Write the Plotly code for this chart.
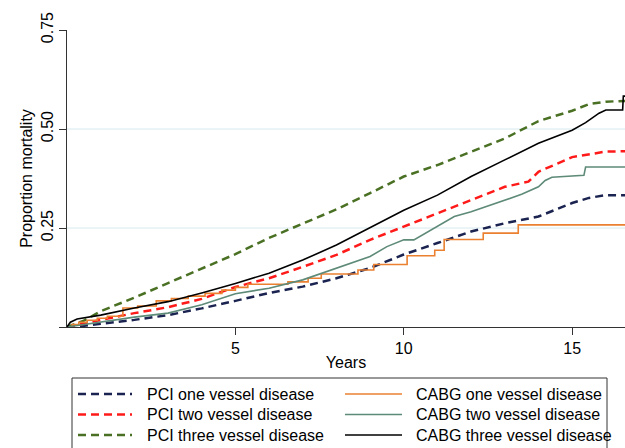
import plotly.graph_objects as go

# ---- data ----
pci1_t = [0, 0.5, 1, 2, 3, 4, 5, 6, 7, 8, 9, 10, 11, 12, 13, 14, 15, 15.5, 16, 16.6]
pci1_y = [0, 0.003, 0.008, 0.018, 0.03, 0.047, 0.066, 0.086, 0.102, 0.123, 0.149, 0.183,
          0.212, 0.241, 0.262, 0.279, 0.313, 0.326, 0.333, 0.333]

pci2_t = [0, 0.5, 1, 2, 3, 4, 5, 6, 7, 8, 9, 10, 11, 12, 13, 13.7, 14, 15, 15.5, 16, 16.6]
pci2_y = [0, 0.008, 0.018, 0.035, 0.05, 0.071, 0.101, 0.123, 0.152, 0.182, 0.22, 0.253,
          0.288, 0.32, 0.354, 0.367, 0.392, 0.429, 0.436, 0.443, 0.444]

pci3_t = [0, 0.25, 0.5, 1, 2, 3, 4, 5, 6, 7, 8, 9, 10, 11, 12, 13, 14, 15, 15.5, 16, 16.6]
pci3_y = [0, 0.008, 0.016, 0.04, 0.074, 0.111, 0.148, 0.184, 0.225, 0.26, 0.297, 0.338,
          0.38, 0.409, 0.443, 0.476, 0.52, 0.546, 0.563, 0.569, 0.571]

cabg1_t = [0, 0.15, 0.35, 0.6, 0.9, 1.2, 1.66, 2.1, 2.65, 3.1, 3.6, 4.1, 4.6, 5.0, 5.37,
           6.56, 7.16, 7.55, 8.64, 9.11, 10.1, 10.92, 11.2, 12.36, 13.4, 16.6]
cabg1_y = [0, 0.006, 0.012, 0.017, 0.022, 0.027, 0.048, 0.053, 0.066, 0.072, 0.078, 0.085,
           0.093, 0.1, 0.108, 0.114, 0.123, 0.134, 0.144, 0.158, 0.18, 0.194, 0.221, 0.237,
           0.258, 0.258]

cabg2_t = [0, 0.5, 1, 2, 3, 4, 5, 6, 7, 8, 9, 9.5, 10, 10.3, 10.5, 11, 11.5, 12, 13, 13.5,
           14, 14.2, 14.4, 15.35, 15.4, 16.6]
cabg2_y = [0, 0.006, 0.013, 0.025, 0.035, 0.056, 0.084, 0.098, 0.119, 0.149, 0.178, 0.203,
           0.22, 0.22, 0.23, 0.253, 0.279, 0.291, 0.32, 0.335, 0.354, 0.37, 0.378, 0.383,
           0.404, 0.404]

cabg3_t = [0, 0.1, 0.3, 1, 2, 3, 4, 5, 6, 7, 8, 9, 10, 11, 12, 13, 14, 15, 15.4, 15.8, 16,
           16.5, 16.52, 16.6]
cabg3_y = [0, 0.012, 0.02, 0.03, 0.048, 0.064, 0.086, 0.11, 0.136, 0.169, 0.207, 0.25,
           0.295, 0.333, 0.38, 0.422, 0.464, 0.497, 0.516, 0.54, 0.548, 0.548, 0.583, 0.583]

x_ticks = [5, 10, 15]
y_ticks = [0, 0.25, 0.5, 0.75]
y_ticktext = ["", "0.25", "0.50", "0.75"]
grid_vals = [0.25, 0.5]

DASH = "8px,5px"
series = [
    ("PCI one vessel disease", pci1_t, pci1_y, "#1b2350", 2.5, DASH, "linear"),
    ("PCI two vessel disease", pci2_t, pci2_y, "#ff1a1a", 2.5, DASH, "linear"),
    ("PCI three vessel disease", pci3_t, pci3_y, "#4a7023", 2.5, DASH, "linear"),
    ("CABG one vessel disease", cabg1_t, cabg1_y, "#ea8030", 1.6, "solid", "hv"),
    ("CABG two vessel disease", cabg2_t, cabg2_y, "#5e8a78", 1.6, "solid", "linear"),
    ("CABG three vessel disease", cabg3_t, cabg3_y, "#000000", 1.6, "solid", "linear"),
]

# ---- layout geometry (pixels) ----
W, H = 625, 448
ML, MR, MT, MB = 67, 0, 30, 121
PW, PH = W - ML - MR, H - MT - MB


def px_x(p):
    return (p - ML) / PW


def px_y(p):
    return (H - MB - p) / PH


fig = go.Figure()
for name, t, y, color, w, dash, shape in series:
    fig.add_trace(go.Scatter(x=t, y=y, mode="lines", name=name, showlegend=False,
                             line=dict(color=color, width=w, dash=dash, shape=shape)))

for g in grid_vals:
    fig.add_shape(type="line", xref="paper", yref="y", x0=0, x1=1, y0=g, y1=g,
                  line=dict(color="#d6eaee", width=1), layer="below")

FONT = dict(family="Arial, Liberation Sans, sans-serif", size=16, color="#000000")

# ---- legend (drawn as a boxed key below the axes) ----
fig.add_shape(type="rect", xref="paper", yref="paper",
              x0=px_x(72), x1=px_x(607), y0=px_y(378), y1=px_y(470),
              line=dict(color="#333333", width=1), fillcolor="rgba(0,0,0,0)")
row_py = [394, 414.5, 435]
cols = [(78, 132, 146), (345, 402, 415)]
for i, (name, t, y, color, w, dash, shape) in enumerate(series):
    c = cols[i // 3]
    r = row_py[i % 3]
    fig.add_shape(type="line", xref="paper", yref="paper",
                  x0=px_x(c[0]), x1=px_x(c[1]), y0=px_y(r), y1=px_y(r),
                  line=dict(color=color, width=w, dash=dash))
    fig.add_annotation(xref="paper", yref="paper", x=px_x(c[2]), y=px_y(r),
                       xanchor="left", yanchor="middle", text=name, showarrow=False,
                       font=FONT, borderpad=0)

fig.update_layout(
    width=W, height=H,
    margin=dict(l=ML, r=MR, t=MT, b=MB, autoexpand=False),
    paper_bgcolor="white", plot_bgcolor="white",
    font=FONT,
    showlegend=False,
    xaxis=dict(range=[0, 16.57], tickvals=x_ticks, ticks="outside", ticklen=7,
               tickcolor="#333333", showline=True, linecolor="#333333", linewidth=1,
               showgrid=False, zeroline=False, tickfont=FONT,
               title=dict(text="Years", font=FONT, standoff=0)),
    yaxis=dict(range=[0, 0.75], tickvals=y_ticks, ticktext=y_ticktext, ticks="outside",
               ticklen=7, tickcolor="#333333", showline=True, linecolor="#333333",
               linewidth=1, showgrid=False, zeroline=False, tickangle=-90, tickfont=FONT,
               title=dict(text="Proportion mortality", font=FONT, standoff=1)),
)

fig.write_html("out.html", config={"displayModeBar": False},
               post_script="document.body.style.margin='0';document.body.style.padding='0';")
